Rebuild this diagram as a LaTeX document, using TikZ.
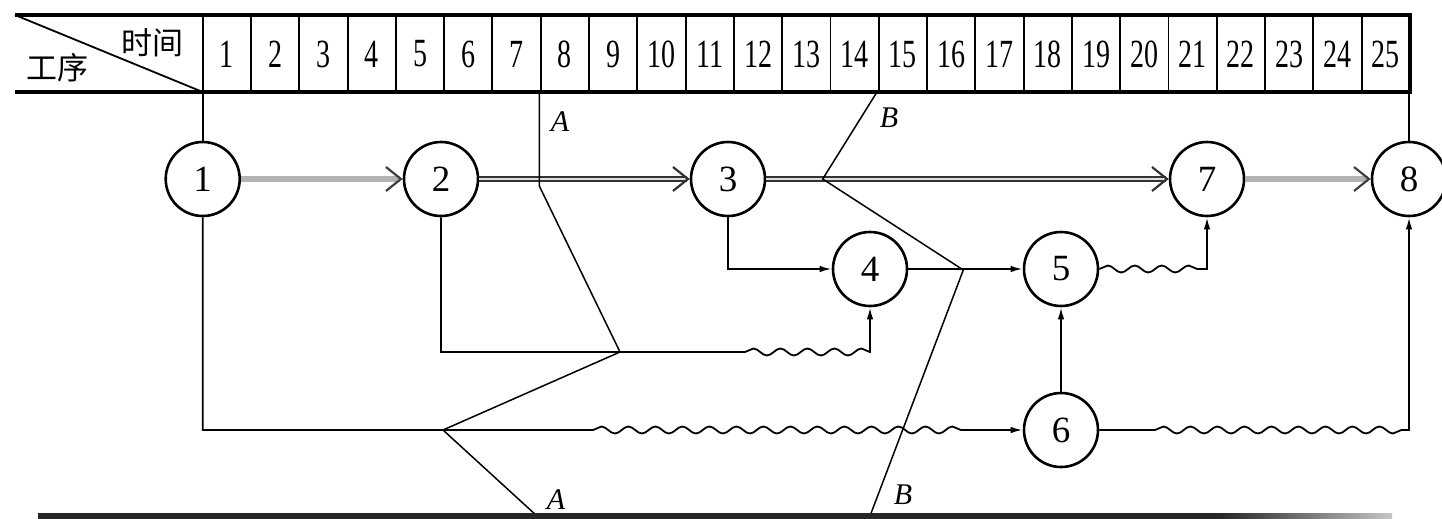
\documentclass[tikz,border=0pt]{standalone}
\usepackage{fontspec}
\setmainfont{Liberation Serif}
\newfontfamily\cjk{Noto Sans CJK SC}
\usetikzlibrary{arrows.meta,decorations.pathmorphing,calc}
\begin{document}
\begin{tikzpicture}[x=1pt,y=-1pt,
  nd/.style={circle,draw,line width=2.6pt,minimum size=74pt,inner sep=0pt,font=\fontsize{37}{37}\selectfont},
  arr/.style={line width=1.8pt,-{Latex[length=12pt,width=6.5pt]}},
  plain/.style={line width=1.8pt},
  crita/.style={line width=6pt,draw=gray!60,-{Straight Barb[length=15pt,width=24pt,line width=2.2pt,color=black!75]}},
  critb/.style={draw=black!80,double=gray!25,double distance=2.8pt,line width=1.5pt,-{Straight Barb[length=15pt,width=24pt,line width=2.2pt,color=black!80]}},
  wave/.style={decorate,decoration={snake,amplitude=3.5pt,segment length=27pt}},
  cut/.style={line width=1.5pt},
  hnum/.style={font=\fontsize{40}{40}\selectfont,inner sep=0pt},
  lab/.style={font=\fontsize{30}{30}\selectfont\itshape,inner sep=0pt},
  cjkl/.style={font=\cjk\fontsize{31}{31}\selectfont,inner sep=0pt}
]
\useasboundingbox (0,0) rectangle (1442,519);

% header
\foreach \k in {0,...,25}
  \draw[line width=1.9pt] ({202.7+48.29*\k},15) -- ({202.7+48.29*\k},92);
\draw[line width=4pt] (15,15) -- (1410,15);
\draw[line width=4pt] (15,92) -- (1410,92);
\draw[line width=3.5pt] (1410,13) -- (1410,94);
\draw[line width=1.8pt] (15,15) -- (202.7,92);
\foreach \k in {1,...,25}
  \node[hnum] (h\k) at ({202.7+48.29*(\k-0.5)},54) {\scalebox{0.7}[1]{\k}};
\node[cjkl] (tl) at (152,43) {时间};
\node[cjkl] (tw) at (57,68) {工序};

% nodes
\node[nd] (n1) at (202.7,179) {1};
\node[nd] (n2) at (441,179) {2};
\node[nd] (n3) at (728,179) {3};
\node[nd] (n4) at (870,269) {4};
\node[nd] (n5) at (1061,269) {5};
\node[nd] (n6) at (1061,430) {6};
\node[nd] (n7) at (1207,179) {7};
\node[nd] (n8) at (1409,179) {8};

\coordinate (hb1) at (202.7,92);
\coordinate (hb8) at (1409,92);
\draw[plain] (hb1) -- (n1);
\draw[plain] (hb8) -- (n8);

% critical path
\draw[crita] (n1) -- (n2);
\draw[critb] (n2) -- (n3);
\draw[critb] (n3) -- (n7);
\draw[crita] (n7) -- (n8);

% other activities
\draw[arr] (n3) |- (n4);
\draw[arr] (n4) -- (n5);
\draw[arr] (n6) -- (n5);

\coordinate (w57) at (n7 |- n5);
\draw[arr] (n5.east) decorate[wave]{-- (w57)} -- (n7.south);

\coordinate (w24a) at (745,352);
\coordinate (w24b) at (n4 |- w24a);
\draw[arr] (n2.south) |- (w24a) decorate[wave]{-- (w24b)} -- (n4.south);

\coordinate (w16a) at (593,430);
\coordinate (w16b) at (973,430);
\draw[arr] (n1.south) |- (w16a) decorate[wave]{-- (w16b)} -- (n6.west);

\coordinate (w68a) at (1155,430);
\coordinate (w68b) at (n8 |- w68a);
\draw[arr] (n6.east) -- (w68a) decorate[wave]{-- (w68b)} -- (n8.south);

% check lines A and B
\draw[cut] (539.3,92) -- (539.3,186) -- (620,352) -- (443,430) -- (537,516);
\draw[cut] (877,92) -- (822.7,179) -- (963.3,270) -- (870,516);
\node[lab] (la1) at (560,122) {A};
\node[lab] (la2) at (556,500) {A};
\node[lab] (lb1) at (889,118) {B};
\node[lab] (lb2) at (903,495) {B};

% bottom rule
\fill[black!85] (38,513) rectangle (1220,519);
\shade[left color=black!85,right color=gray!45] (1220,513) rectangle (1392,519);
\end{tikzpicture}
\end{document}
